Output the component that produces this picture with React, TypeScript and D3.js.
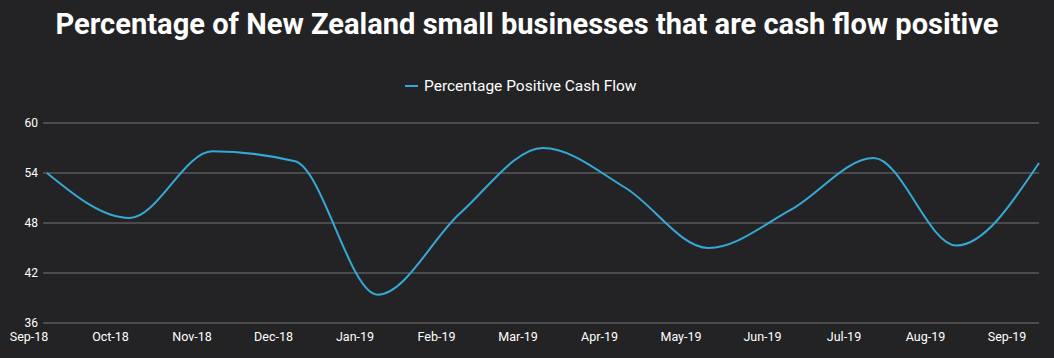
import React from "react";
import * as d3 from "d3";

const months = ["Sep-18","Oct-18","Nov-18","Dec-18","Jan-19","Feb-19","Mar-19","Apr-19","May-19","Jun-19","Jul-19","Aug-19","Sep-19"];
const positive = [54.0, 48.6, 56.6, 55.4, 39.4, 49.2, 57.0, 52.2, 45.0, 49.6, 55.8, 45.3, 55.2];
const yTicks = [36, 42, 48, 54, 60];
const title = "Percentage of New Zealand small businesses that are cash flow positive";
const seriesName = "Percentage Positive Cash Flow";

export default function App() {
  const W = 1054, H = 358;
  const bg = "#232325";
  const lineColor = "#35a9d6";
  const x = d3.scalePoint<string>().domain(months).range([47, 1039]);
  const xl = d3.scalePoint<string>().domain(months).range([29, 1007]);
  const y = d3.scaleLinear().domain([36, 60]).range([323, 123]);
  const line = d3.line<number>()
    .x((_, i) => x(months[i]) as number)
    .y((d) => y(d))
    .curve(d3.curveMonotoneX);
  const font = "Roboto, 'Noto Sans', sans-serif";
  return (
    <div style={{ position: "fixed", left: 0, top: 0, width: W, height: H, background: bg }}>
      <svg width={W} height={H} style={{ display: "block" }}>
        <rect width={W} height={H} fill={bg} />
        <text x={527} y={34} textAnchor="middle" fill="#fff" fontFamily={font} fontWeight={700} fontSize={29}
          textLength={943} lengthAdjust="spacingAndGlyphs">{title}</text>
        <line x1={405} x2={418} y1={86} y2={86} stroke={lineColor} strokeWidth={2} />
        <text x={424} y={91} fill="#fff" fontFamily={font} fontSize={15.5}>{seriesName}</text>
        {yTicks.map((t) => (
          <g key={t}>
            <line x1={43} x2={1039} y1={y(t)} y2={y(t)} stroke="#5a5a5c" strokeWidth={1.5} />
            <text x={38} y={y(t) + 4} textAnchor="end" fill="#fff" fontFamily={font} fontSize={12}>{t}</text>
          </g>
        ))}
        {months.map((m) => (
          <text key={m} x={xl(m)} y={341} textAnchor="middle" fill="#fff" fontFamily={font} fontSize={12.5}>{m}</text>
        ))}
        <path d={line(positive) || ""} fill="none" stroke={lineColor} strokeWidth={2} />
      </svg>
    </div>
  );
}
